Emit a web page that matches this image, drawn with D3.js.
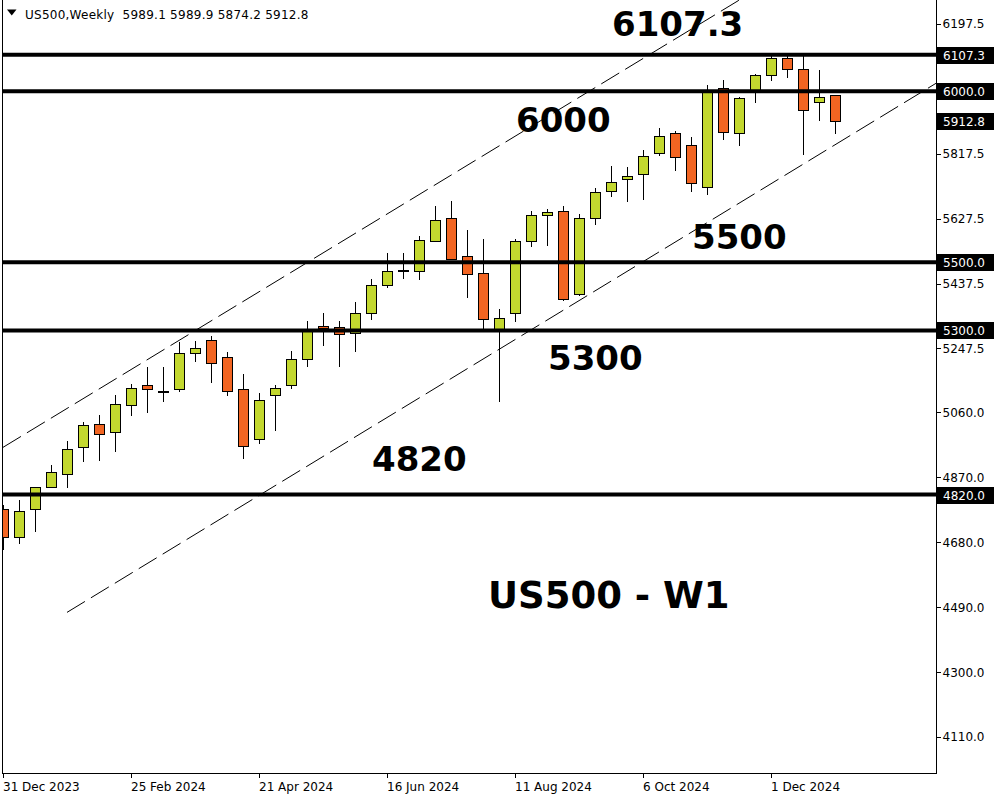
<!DOCTYPE html>
<html><head><meta charset="utf-8">
<script src="https://cdn.jsdelivr.net/npm/d3@7"></script>
<style>body{margin:0;background:#fff}svg{display:block}</style>
</head><body>
<svg id="c" width="1000" height="800"></svg>
<script>
// ---------- data ----------
const weeks = ["2023-12-31","2024-01-07","2024-01-14","2024-01-21","2024-01-28","2024-02-04","2024-02-11","2024-02-18",
"2024-02-25","2024-03-03","2024-03-10","2024-03-17","2024-03-24","2024-03-31","2024-04-07","2024-04-14",
"2024-04-21","2024-04-28","2024-05-05","2024-05-12","2024-05-19","2024-05-26","2024-06-02","2024-06-09",
"2024-06-16","2024-06-23","2024-06-30","2024-07-07","2024-07-14","2024-07-21","2024-07-28","2024-08-04",
"2024-08-11","2024-08-18","2024-08-25","2024-09-01","2024-09-08","2024-09-15","2024-09-22","2024-09-29",
"2024-10-06","2024-10-13","2024-10-20","2024-10-27","2024-11-03","2024-11-10","2024-11-17","2024-11-24",
"2024-12-01","2024-12-08","2024-12-15","2024-12-22","2024-12-29"];
const open  = [4777,4696,4778,4843,4879,4958,5025,5004,5083,5139,5122,5130,5235,5271,5221,5130,4981,5110,5139,5218,5312,5310,5294,5350,5434,5476,5475,5562,5628,5519,5469,5303,5350,5563,5639,5651,5408,5630,5709,5742,5759,5818,5879,5844,5721,6010,5879,6005,6047,6096,6066,5970,5989.1];
const high  = [4789,4803,4841,4906,4976,5031,5052,5110,5143,5192,5192,5266,5269,5283,5238,5172,5116,5140,5239,5327,5352,5327,5382,5452,5526,5528,5576,5663,5678,5593,5569,5362,5569,5649,5655,5663,5642,5716,5781,5778,5827,5892,5884,5865,6018,6032,5982,6052,6105,6105,6105,6061,5989.9];
const low   = [4657,4675,4711,4843,4840,4915,4918,4945,5050,5059,5091,5120,5208,5145,5107,4925,4969,5006,5129,5193,5255,5193,5237,5332,5424,5451,5447,5559,5505,5395,5305,5091,5325,5544,5547,5385,5401,5610,5691,5676,5682,5812,5767,5705,5697,5857,5839,5966,6030,6040,5814,5914,5874.2];
const close = [4695,4773,4841,4887,4952,5022,4998,5086,5133,5130,5123,5233,5250,5206,5124,4963,5098,5133,5218,5300,5306,5291,5350,5434,5475,5477,5566,5622,5510,5464,5333,5338,5561,5637,5646,5391,5628,5704,5736,5751,5812,5870,5809,5733,6003,5882,5979,6047,6096,6064,5944,5982,5912.8];

const levels = [6107.3, 6000, 5500, 5300, 4820];
const levelLabels = ["6107.3", "6000.0", "5500.0", "5300.0", "4820.0"];
const lastPrice = 5912.8;
const lastPriceLabel = "5912.8";
const yTicks = [6197.5, 6007.5, 5817.5, 5627.5, 5437.5, 5247.5, 5060, 4870, 4680, 4490, 4300, 4110];
const yTickHidden = [6007.5];
const xTicks = ["2023-12-31","2024-02-25","2024-04-21","2024-06-16","2024-08-11","2024-10-06","2024-12-01"];
const xTickLabels = ["31 Dec 2023","25 Feb 2024","21 Apr 2024","16 Jun 2024","11 Aug 2024","6 Oct 2024","1 Dec 2024"];
const channelUpperDates = ["2023-12-31", "2024-11-24"];
const channelUpperPrices = [4958, 6295];
const channelLowerDates = ["2024-01-28", "2025-02-16"];
const channelLowerPrices = [4475, 6043];
const annotationTexts = ["6107.3", "6000", "5500", "5300", "4820", "US500 - W1"];
const headerText = "US500,Weekly  5989.1 5989.9 5874.2 5912.8";

// ---------- scales ----------
const parse = d3.utcParse("%Y-%m-%d");
const svg = d3.select("#c");
const L = 3, R = 936.5, B = 773.5;
const x = d3.scaleUtc().domain([parse(weeks[0]), parse(weeks[weeks.length - 1])]).range([3, 835]);
const y = d3.scaleLinear().domain([4820, 6000]).range([494.5, 91.3]);
const px = v => Math.round(v) + 0.5;

svg.append("rect").attr("width", 1000).attr("height", 800).attr("fill", "#fff");

const defs = svg.append("defs");
defs.append("clipPath").attr("id", "clip").append("rect")
  .attr("x", L).attr("y", 0).attr("width", R - L).attr("height", B);

const plot = svg.append("g").attr("clip-path", "url(#clip)");

// channel lines
const line = d3.line().x(d => x(d[0])).y(d => y(d[1]));
[[channelUpperDates, channelUpperPrices], [channelLowerDates, channelLowerPrices]].forEach(([ds, ps]) => {
  plot.append("path")
    .attr("d", line(ds.map((d, i) => [parse(d), ps[i]])))
    .attr("fill", "none").attr("stroke", "#000").attr("stroke-width", 1)
    .attr("stroke-dasharray", "21,7");
});

// candles
const candles = plot.append("g").attr("shape-rendering", "crispEdges");
weeks.forEach((w, i) => {
  const cx = Math.round(x(parse(w)));
  const o = open[i], c = close[i], h = high[i], l = low[i];
  candles.append("line")
    .attr("x1", cx + 0.5).attr("x2", cx + 0.5)
    .attr("y1", y(h)).attr("y2", y(l))
    .attr("stroke", "#000").attr("stroke-width", 1);
  const top = px(y(Math.max(o, c))), bot = px(y(Math.min(o, c)));
  candles.append("rect")
    .attr("x", cx - 4.5).attr("width", 10)
    .attr("y", top).attr("height", Math.max(bot - top, 1))
    .attr("fill", c >= o ? "#c3d82f" : "#f26522")
    .attr("stroke", "#000").attr("stroke-width", 1);
});

// horizontal levels
levels.forEach(v => {
  svg.append("line")
    .attr("x1", L).attr("x2", 938)
    .attr("y1", y(v)).attr("y2", y(v))
    .attr("stroke", "#000").attr("stroke-width", 4);
});

// frame
const frame = svg.append("g").attr("shape-rendering", "crispEdges").attr("stroke", "#000").attr("fill", "none");
frame.append("line").attr("x1", 2.5).attr("x2", 2.5).attr("y1", 0).attr("y2", B);
frame.append("line").attr("x1", R).attr("x2", R).attr("y1", 0).attr("y2", B);
frame.append("line").attr("x1", 2.5).attr("x2", R).attr("y1", B).attr("y2", B);

// annotation texts (anchored to date / price via scales)
const annPos = [
  {d: "2024-09-22", v: 6107.3, dy: -19, size: 34},
  {d: "2024-08-11", v: 6000, dy: 41, size: 34},
  {d: "2024-10-27", v: 5500, dy: -13, size: 34},
  {d: "2024-08-25", v: 5300, dy: 40, size: 34},
  {d: "2024-06-09", v: 4820, dy: -24, size: 34},
  {d: "2024-07-28", v: 4490, dy: 1, size: 37}
];
annotationTexts.forEach((t, i) => {
  const p = annPos[i];
  svg.append("text")
    .attr("x", x(parse(p.d)) + (i === 5 ? 5 : 1))
    .attr("y", y(p.v) + p.dy)
    .attr("font-family", "'DejaVu Sans', sans-serif")
    .attr("font-weight", "bold")
    .attr("font-size", p.size)
    .attr("fill", "#000")
    .text(t);
});

// y axis
const yAxis = svg.append("g").attr("transform", `translate(${R},0)`)
  .call(d3.axisRight(y).tickValues(yTicks).tickSize(4).tickPadding(2)
    .tickFormat(d => yTickHidden.includes(d) ? "" : d3.format(".1f")(d)));
yAxis.select(".domain").remove();
yAxis.selectAll("text").attr("font-family", "'DejaVu Sans', sans-serif").attr("font-size", 12).attr("fill", "#000");
yAxis.selectAll("line").attr("stroke", "#000").attr("shape-rendering", "crispEdges");

// x axis
const xAxis = svg.append("g").attr("transform", `translate(0,${B})`)
  .call(d3.axisBottom(x).tickValues(xTicks.map(parse)).tickSize(4)
    .tickFormat((d, i) => xTickLabels[i]));
xAxis.select(".domain").remove();
xAxis.selectAll("line").attr("stroke", "#000").attr("shape-rendering", "crispEdges");
xAxis.selectAll("text").attr("text-anchor", "start").attr("y", 17.5).attr("dy", 0)
  .attr("x", -0.5)
  .attr("font-family", "'DejaVu Sans', sans-serif").attr("font-size", 12).attr("fill", "#000");

// price boxes
function box(v, label) {
  const cy = y(v);
  svg.append("rect").attr("x", 937).attr("y", Math.round(cy) - 8).attr("width", 57).attr("height", 17).attr("fill", "#000");
  svg.append("text").attr("x", 943).attr("y", Math.round(cy) + 0.5).attr("dy", "0.35em")
    .attr("font-family", "'DejaVu Sans', sans-serif").attr("font-size", 12).attr("fill", "#fff").text(label);
}
levels.forEach((v, i) => box(v, levelLabels[i]));
box(lastPrice, lastPriceLabel);

// header
svg.append("path").attr("d", "M7,9.5 L16.5,9.5 L11.75,15.5 Z").attr("fill", "#000");
svg.append("text").attr("x", 25).attr("y", 19)
  .attr("font-family", "'DejaVu Sans', sans-serif").attr("font-size", 12).attr("letter-spacing", 0.25)
  .attr("fill", "#000").attr("xml:space", "preserve").style("white-space", "pre").text(headerText);
</script>
</body></html>
